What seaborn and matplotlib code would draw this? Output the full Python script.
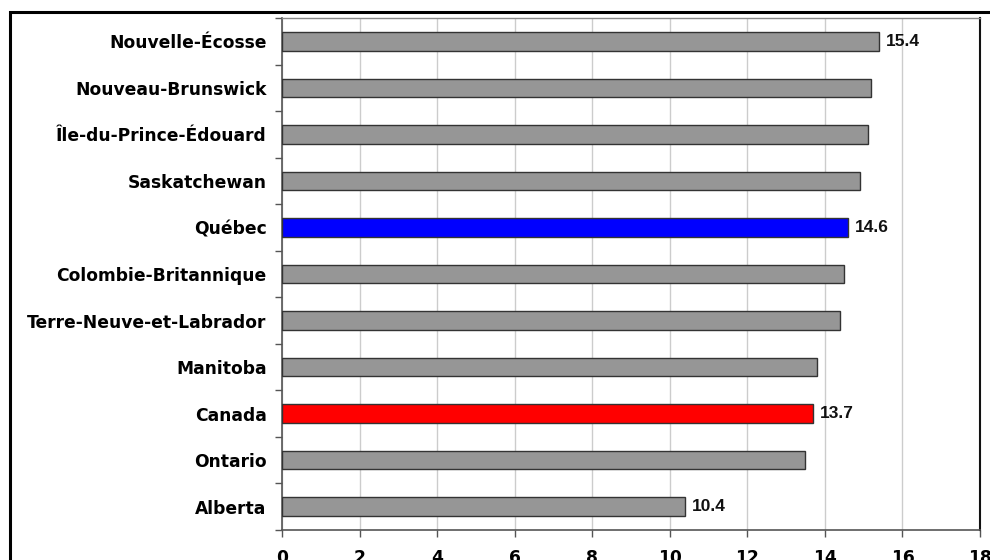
import matplotlib
matplotlib.use("Agg")
import matplotlib.pyplot as plt
from matplotlib.patches import Rectangle
from matplotlib.ticker import FixedLocator
import seaborn as sns
import pandas as pd

# Provinces, top to bottom
regions = [
    "Nouvelle-Écosse", "Nouveau-Brunswick", "Île-du-Prince-Édouard",
    "Saskatchewan", "Québec", "Colombie-Britannique",
    "Terre-Neuve-et-Labrador", "Manitoba", "Canada", "Ontario", "Alberta",
]
values = [15.4, 15.2, 15.1, 14.9, 14.6, 14.5, 14.4, 13.8, 13.7, 13.5, 10.4]
highlight = {"Québec": "#0000FF", "Canada": "#FF0000"}
labelled = ["Nouvelle-Écosse", "Québec", "Canada", "Alberta"]
x_ticks = [0, 2, 4, 6, 8, 10, 12, 14, 16, 18]

df = pd.DataFrame({"region": regions, "value": values})
palette = {r: highlight.get(r, "#969696") for r in regions}

sns.set_style("white")
plt.rcParams["font.family"] = ["DejaVu Sans"]

fig = plt.figure(figsize=(9.9, 5.6), dpi=100)
W, H = 990, 560
ax = fig.add_axes([282 / W, 1 - 530 / H, (980 - 282) / W, (530 - 18) / H])

# Outer frame around the chart
fig.add_artist(Rectangle((10 / W, -0.1), 1.2, 1 - 12 / H + 0.1,
                         transform=fig.transFigure, fill=False,
                         edgecolor="black", linewidth=2.2, zorder=0))

sns.barplot(data=df, x="value", y="region", hue="region", palette=palette,
            legend=False, orient="h", width=0.4, edgecolor="#333333",
            linewidth=1.0, saturation=1, ax=ax, zorder=3)

ax.set_xlim(0, 18)
ax.set_ylim(len(regions) - 0.5, -0.5)
ax.set_xticks(x_ticks)
ax.set_xlabel("")
ax.set_ylabel("")

# Vertical grid lines
ax.xaxis.grid(True, color="#cccccc", linewidth=1.0, zorder=0)
ax.yaxis.grid(False)
ax.set_axisbelow(True)

# Tick marks between categories, labels centred on the bars
ax.yaxis.set_minor_locator(FixedLocator([i - 0.5 for i in range(len(regions) + 1)]))
ax.tick_params(axis="y", which="major", length=0, pad=11,
               labelsize=12.3, labelcolor="black")
ax.tick_params(axis="y", which="minor", length=5, width=1, color="#555555",
               direction="out", left=True)
ax.tick_params(axis="x", which="major", length=5, width=1, color="#555555",
               direction="out", bottom=True, pad=9, labelsize=12.3,
               labelcolor="black")
for lab in ax.get_yticklabels() + ax.get_xticklabels():
    lab.set_fontweight("bold")

for side in ["left", "bottom"]:
    ax.spines[side].set_color("#555555")
    ax.spines[side].set_linewidth(1.2)
ax.spines["top"].set_color("#888888")
ax.spines["top"].set_linewidth(1.0)
ax.spines["right"].set_color("#111111")
ax.spines["right"].set_linewidth(1.5)

# Value labels for selected bars
for i, (r, v) in enumerate(zip(regions, values)):
    if r in labelled:
        ax.annotate(f"{v:.1f}", xy=(v, i), xytext=(5, 0),
                    textcoords="offset points", va="center", ha="left",
                    fontsize=12.5, fontfamily="Liberation Sans",
                    fontweight="bold", color="#111111")

fig.savefig("out.png", dpi=100, facecolor="white")
